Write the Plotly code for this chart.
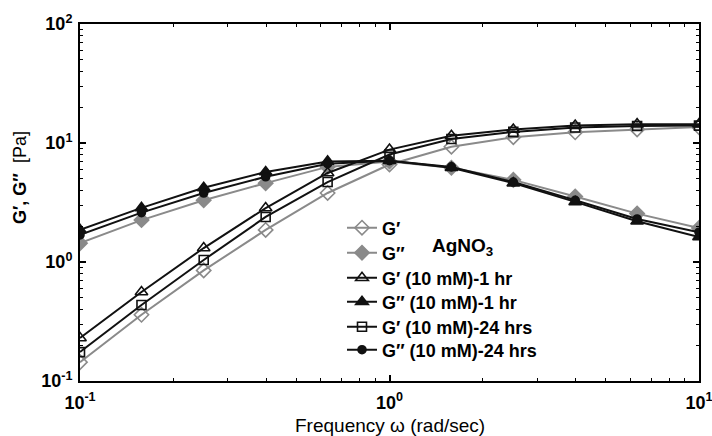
import plotly.graph_objects as go

# Angular frequency (rad/sec)
freq = [0.1, 0.158, 0.251, 0.398, 0.631, 1.0, 1.585, 2.512, 3.981, 6.31, 10.0]

# Moduli (Pa)
g1_agno3 = [0.144, 0.36, 0.85, 1.86, 3.8, 6.6, 9.3, 11.2, 12.3, 13.0, 13.6]
g2_agno3 = [1.44, 2.25, 3.3, 4.6, 6.3, 7.0, 6.2, 4.9, 3.55, 2.55, 1.93]
g1_1hr = [0.23, 0.56, 1.31, 2.84, 5.6, 8.8, 11.5, 13.0, 14.0, 14.4, 14.4]
g2_1hr = [1.86, 2.85, 4.2, 5.7, 7.0, 7.1, 6.2, 4.6, 3.2, 2.2, 1.62]
g1_24hr = [0.175, 0.435, 1.04, 2.39, 4.7, 8.0, 10.8, 12.4, 13.5, 13.9, 14.0]
g2_24hr = [1.69, 2.6, 3.8, 5.2, 6.7, 7.1, 6.3, 4.7, 3.3, 2.3, 1.78]

names = ["G′", "G″", "G′ (10 mM)-1 hr", "G″ (10 mM)-1 hr",
         "G′ (10 mM)-24 hrs", "G″ (10 mM)-24 hrs"]

GRAY = "#8a8a8a"
BLACK = "#111111"

styles = [
    (g1_agno3, GRAY, "diamond-open", 11),
    (g2_agno3, GRAY, "diamond", 11),
    (g1_1hr, BLACK, "triangle-up-open", 11),
    (g2_1hr, BLACK, "triangle-up", 11),
    (g1_24hr, BLACK, "square-open", 9),
    (g2_24hr, BLACK, "circle", 8),
]

FONT = "Arial, Liberation Sans, sans-serif"

# plot-area geometry (pixels) used to place the legend rows
PL, PR, PT, PB = 80, 699, 24, 381
legend_rows = [228, 253, 278, 302, 327, 350]

fig = go.Figure()
legend_layout = {}
for i, (vals, col, sym, sz) in enumerate(styles):
    lname = "legend" if i == 0 else f"legend{i + 1}"
    fig.add_trace(go.Scatter(
        x=freq, y=vals, name=names[i], mode="lines+markers",
        legend=lname,
        line=dict(color=col, width=2),
        marker=dict(symbol=sym, size=sz, color=col,
                    line=dict(color=col, width=1.6)),
    ))
    legend_layout[lname] = dict(
        x=(342 - PL) / (PR - PL), y=(PB - legend_rows[i]) / (PB - PT),
        xanchor="left", yanchor="middle",
        bgcolor="rgba(0,0,0,0)", borderwidth=0, itemwidth=30,
        font=dict(family=FONT, size=18, color="black", weight="bold"),
    )

xt = [0.1, 1, 10]
xl = ["<b>10<sup>-1</sup></b>", "<b>10<sup>0</sup></b>", "<b>10<sup>1</sup></b>"]
yt = [0.1, 1, 10, 100]
yl = ["<b>10<sup>-1</sup></b>", "<b>10<sup>0</sup></b>",
      "<b>10<sup>1</sup></b>", "<b>10<sup>2</sup></b>"]

axis_common = dict(
    type="log", showline=True, linecolor="black", linewidth=2,
    mirror="allticks", ticks="inside", ticklen=6, tickwidth=1.5,
    tickcolor="black", showgrid=False, zeroline=False, automargin=False,
    ticklabeloverflow="allow",
    tickfont=dict(family=FONT, size=18, color="black"),
    minor=dict(ticks="inside", ticklen=3, tickwidth=1.2,
               tickcolor="black", dtick="D1", showgrid=False),
)

fig.update_xaxes(range=[-1, 1], tickvals=xt, ticktext=xl,
                 ticklabelstandoff=4, **axis_common)
fig.update_yaxes(range=[-1, 2], tickvals=yt, ticktext=yl,
                 ticklabelstandoff=2, **axis_common)

fig.add_annotation(
    text="Frequency ω (rad/sec)", xref="paper", yref="paper",
    x=0.5, y=0, yshift=-44, yanchor="middle", showarrow=False,
    font=dict(family=FONT, size=19, color="black"),
)
fig.add_annotation(
    text="<b>G′, G″</b>\u00a0\u00a0[Pa]", xref="paper", yref="paper",
    x=0, y=(PB - 178) / (PB - PT), xshift=-60, xanchor="center",
    yanchor="middle", textangle=-90, showarrow=False,
    font=dict(family=FONT, size=18, color="black"),
)
fig.add_annotation(
    text="<b>AgNO<sub>3</sub></b>", xref="paper", yref="paper",
    x=(430 - PL) / (PR - PL), y=(PB - 247) / (PB - PT), xanchor="left",
    showarrow=False, font=dict(family=FONT, size=19, color="black"),
)

fig.update_layout(
    width=712, height=436,
    margin=dict(l=PL, r=712 - PR, t=PT, b=436 - PB),
    paper_bgcolor="white", plot_bgcolor="white",
    showlegend=True,
    **legend_layout,
)

fig.write_html("out.html")
